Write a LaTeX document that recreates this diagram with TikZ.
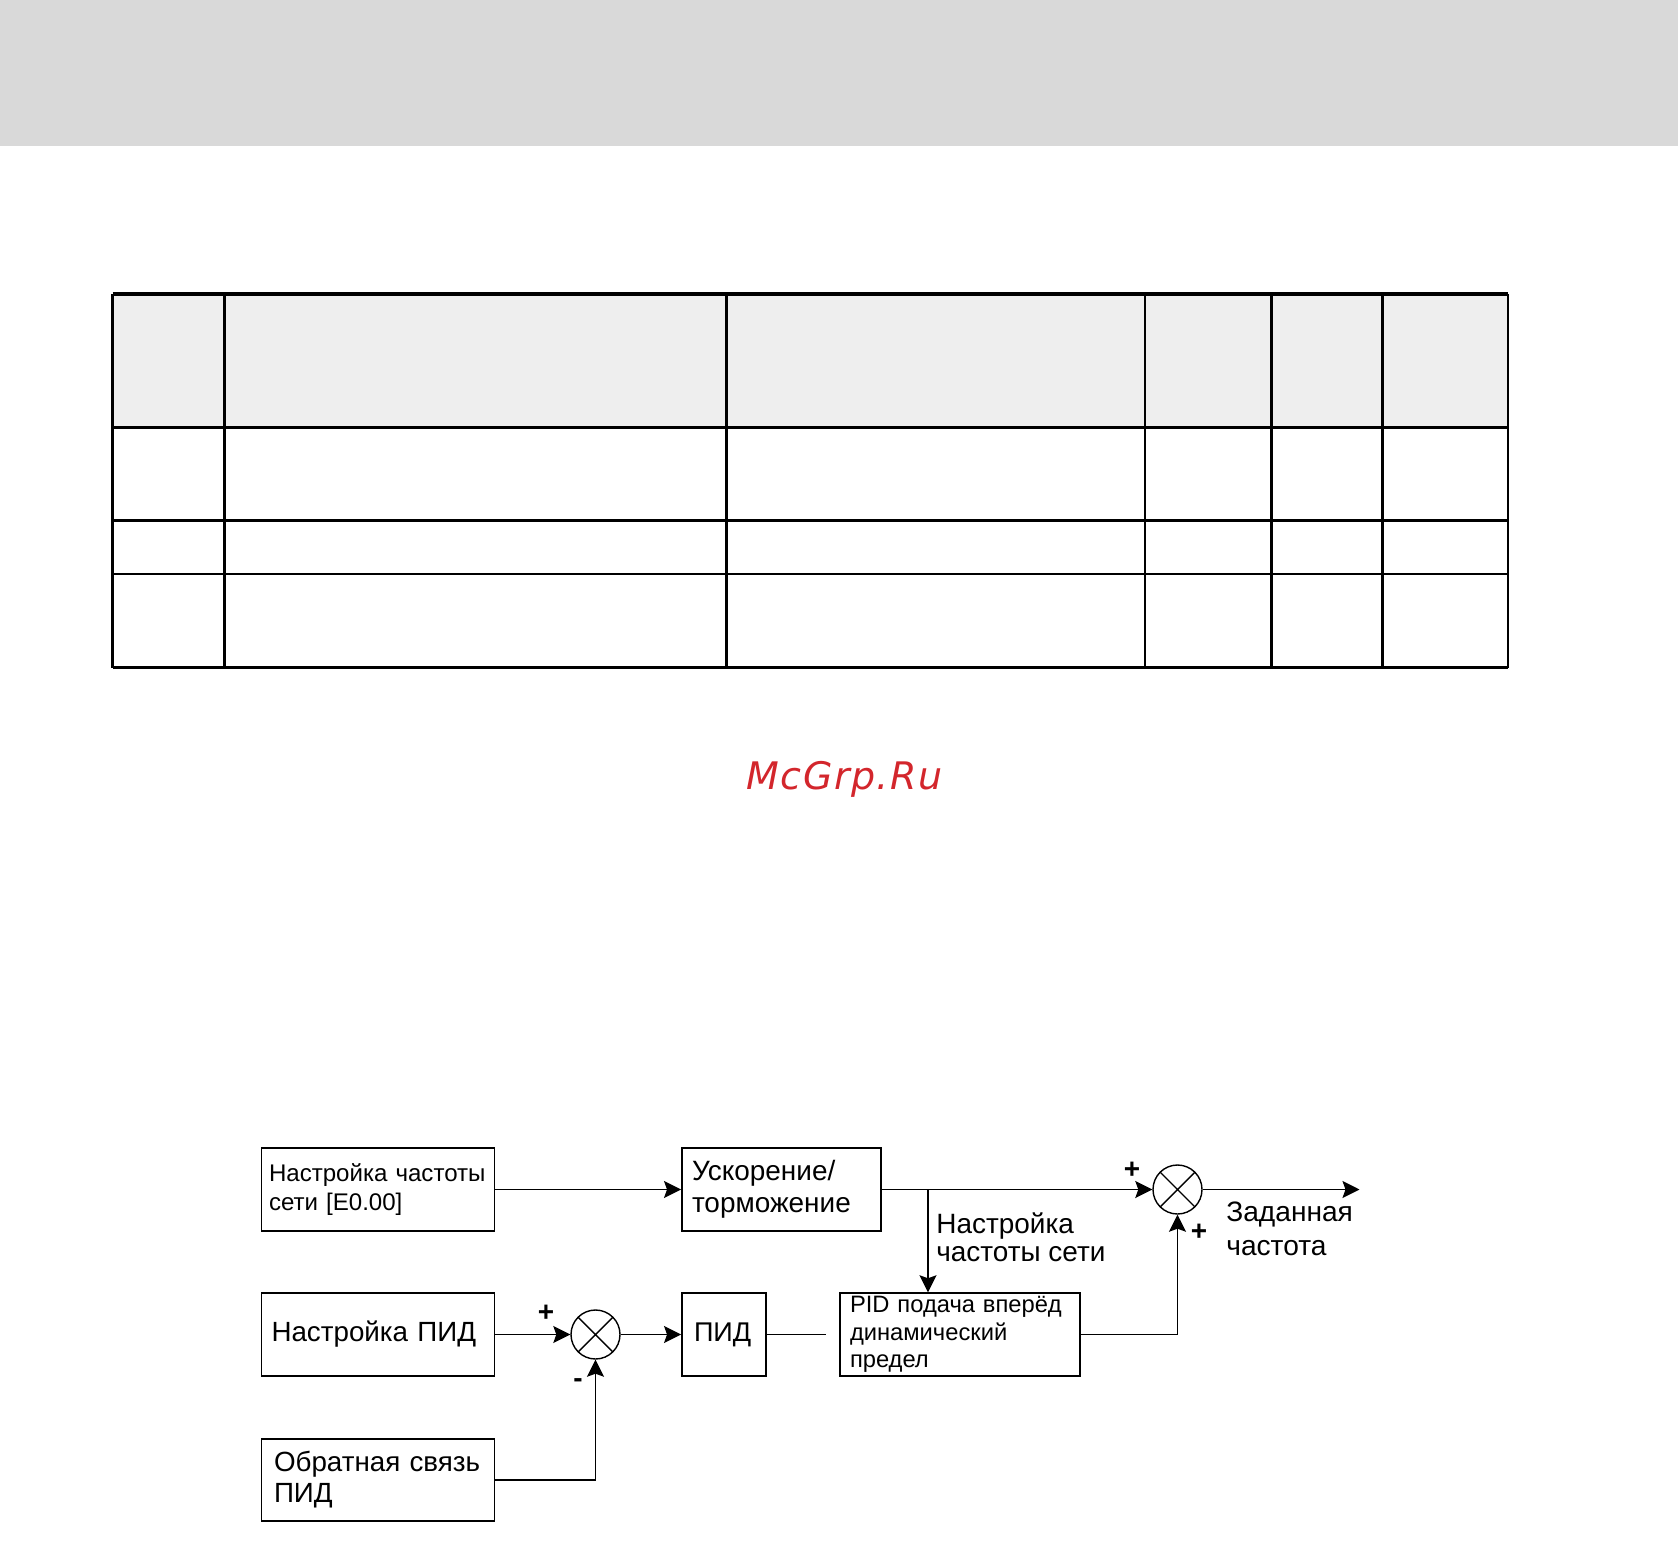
\documentclass[tikz,border=0pt]{standalone}
\usepackage{fontspec}
\setmainfont{Liberation Sans}
\newfontfamily\markfont[LetterSpace=4]{DejaVu Sans}
\definecolor{bandgray}{HTML}{D9D9D9}
\definecolor{headgray}{HTML}{EEEEEE}
\definecolor{markred}{HTML}{D3262C}
\usetikzlibrary{arrows.meta,positioning}
\tikzset{
    blockbox/.style={
        draw=black,
        fill=white,
        line width=1.1pt,
        minimum height=1.65cm,
        inner xsep=0.2cm,
        inner ysep=0pt,
        align=left,
        font=\fontsize{15.8pt}{18.2pt}\selectfont
    },
    sumnode/.style={
        circle,
        draw=black,
        line width=0.8pt,
        minimum size=0.98cm,
        inner sep=0pt,
        path picture={
            \draw[line width=0.8pt]
                (path picture bounding box.north west) --
                (path picture bounding box.south east)
                (path picture bounding box.north east) --
                (path picture bounding box.south west);
        }
    },
    flowarrow/.style={
        -{Stealth[length=3.4mm,width=3.4mm,inset=0.6mm]},
        draw=black,
        line width=1.1pt
    },
    pidarrow/.style={
        flowarrow,
        line width=0.8pt
    },
    pidline/.style={
        draw=black,
        line width=0.6pt
    },
    signlabel/.style={
        inner sep=0pt,
        font=\bfseries\fontsize{15.9pt}{16pt}\selectfont
    },
    flowlabel/.style={
        inner sep=0pt,
        align=left,
        anchor=base west
    },
    tablerule/.style={
        draw=black,
        line width=1.2pt
    },
    tableheavy/.style={
        draw=black,
        line width=1.9pt
    }
}

\begin{document}
\begin{tikzpicture}
    \useasboundingbox (0,0) rectangle (33.56,-31);
    \fill[bandgray] (0,0) rectangle (33.56,-2.92);

    \fill[headgray] (2.25,-5.88) rectangle (30.16,-8.55);
    \draw[tablerule] (2.25,-5.88) -- (2.25,-13.35);
    \draw[tablerule] (4.49,-5.88) -- (4.49,-13.35);
    \draw[tablerule] (14.53,-5.88) -- (14.53,-13.35);
    \draw[tablerule] (22.90,-5.88) -- (22.90,-13.35);
    \draw[tablerule] (25.43,-5.88) -- (25.43,-13.35);
    \draw[tablerule] (27.65,-5.88) -- (27.65,-13.35);
    \draw[tablerule] (30.16,-5.88) -- (30.16,-13.35);
    \draw[tableheavy] (2.25,-5.88) -- (30.16,-5.88);
    \draw[tableheavy] (2.25,-8.55) -- (30.16,-8.55);
    \draw[tablerule] (2.25,-10.41) -- (30.16,-10.41);
    \draw[tablerule] (2.25,-11.48) -- (30.16,-11.48);
    \draw[tablerule] (2.25,-13.35) -- (30.16,-13.35);

    \node[font=\markfont\itshape\fontsize{21.6pt}{22pt}\selectfont,
        text=markred, anchor=base] (watermark) at (16.89,-15.78) {McGrp.Ru};

    \node[blockbox, text width=4.36cm, inner xsep=0.15cm,
        font=\fontsize{13.7pt}{16.5pt}\selectfont]
        (freqset) at (7.56,-23.79) {Настройка частоты\\сети [E0.00]};
    \node[blockbox, text width=3.58cm,
        font=\fontsize{15.9pt}{18.2pt}\selectfont]
        (accel) at (15.63,-23.79) {Ускорение/\\торможение};
    \node[blockbox, text width=4.26cm]
        (pidset) at (7.56,-26.69) {Настройка ПИД};
    \node[blockbox, text width=4.16cm, inner xsep=0.25cm,
        font=\fontsize{15.8pt}{17.7pt}\selectfont]
        (feedback) at (7.56,-29.6) {Обратная связь\\ПИД};
    \node[blockbox, text width=1.2cm, inner xsep=0.24cm,
        font=\fontsize{15.4pt}{18pt}\selectfont]
        (pid) at (14.48,-26.69) {ПИД};
    \node[blockbox, text width=4.4cm,
        font=\fontsize{13.5pt}{15.7pt}\selectfont]
        (ff) at (19.2,-26.69) {PID подача вперёд\\динамический\\предел};

    \node[sumnode] (sumtop) at (23.55,-23.79) {};
    \node[sumnode] (sumbot) at (11.91,-26.69) {};

    \coordinate (branch) at (18.56,-23.79);
    \coordinate (outend) at (27.19,-23.79);
    \coordinate (pidend) at (16.52,-26.69);

    \draw[flowarrow] (freqset) -- (accel);
    \draw[flowarrow] (accel) -- (sumtop);
    \draw[flowarrow] (sumtop) -- (outend);
    \draw[flowarrow] (branch) -- (branch |- ff.north);
    \draw[flowarrow] (ff) -| (sumtop);
    \draw[pidarrow] (pidset) -- (sumbot);
    \draw[pidarrow] (sumbot) -- (pid);
    \draw[pidline] (pid) -- (pidend);
    \draw[flowarrow] (feedback) -| (sumbot);

    \node[signlabel] (plustop) at (22.64,-23.40) {+};
    \node[signlabel] (plusright) at (23.98,-24.64) {+};
    \node[signlabel] (plusleft) at (10.92,-26.26) {+};
    \node[signlabel] (minusbot) at (11.56,-27.67) {-};

    \node[flowlabel, font=\fontsize{15.9pt}{15.9pt}\selectfont]
        (netlabel) at (18.72,-25.22) {Настройка\\частоты сети};
    \node[flowlabel, font=\fontsize{16pt}{19pt}\selectfont]
        (outlabel) at (24.52,-25.10) {Заданная\\частота};
\end{tikzpicture}
\end{document}
